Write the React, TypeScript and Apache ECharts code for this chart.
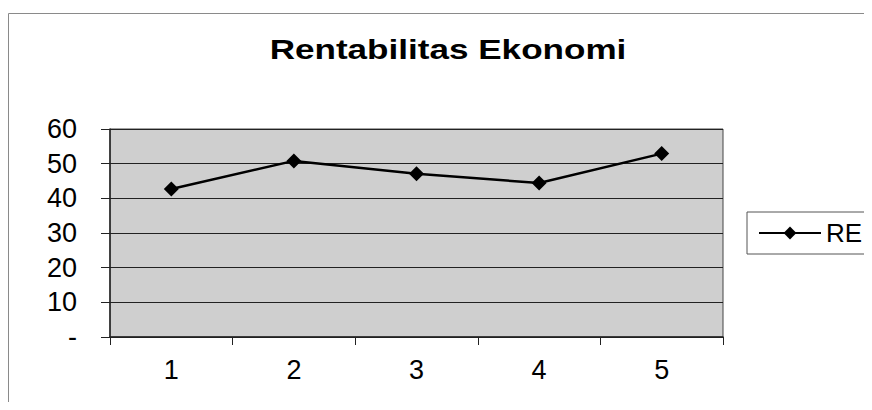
import React, { useEffect, useRef } from "react";
import * as echarts from "echarts";

const titleText = "Rentabilitas Ekonomi";
const categories = ["1", "2", "3", "4", "5"];
const seriesName = "RE";
const reValues = [42.7, 50.8, 47.1, 44.4, 52.9];
const yMin = 0;
const yMax = 60;
const yInterval = 10;

const FONT = 'Arial, "Liberation Sans", sans-serif';

export default function App() {
  const ref = useRef<HTMLDivElement>(null);
  useEffect(() => {
    if (!ref.current) return;
    const chart = echarts.init(ref.current, undefined, { renderer: "svg" });
    chart.setOption({
      animation: false,
      backgroundColor: "#ffffff",
      textStyle: { fontFamily: FONT },
      graphic: [
        {
          type: "rect",
          shape: { x: 8.5, y: 13.5, width: 860, height: 420 },
          style: { fill: "none", stroke: "#8a8a8a", lineWidth: 1 },
          silent: true,
          z: -1,
        },
        {
          type: "text",
          x: 448,
          y: 50,
          scaleX: 1.3,
          style: {
            text: titleText,
            fontSize: 27,
            fontWeight: "bold",
            fontFamily: FONT,
            fill: "#000",
            textAlign: "center",
            textVerticalAlign: "middle",
          },
        },
      ],
      legend: {
        show: true,
        left: 747,
        top: 212,
        orient: "vertical",
        padding: [8, 40, 8, 11],
        borderColor: "#555",
        borderWidth: 1,
        backgroundColor: "#fff",
        itemWidth: 62,
        itemHeight: 16,
        itemGap: 0,
        textStyle: { fontSize: 26, color: "#000", fontFamily: FONT },
        data: [seriesName],
      },
      grid: {
        left: 110,
        right: 149,
        top: 129,
        bottom: 73,
        show: true,
        backgroundColor: "#cfcfcf",
        borderColor: "#444",
        borderWidth: 1,
      },
      xAxis: {
        type: "category",
        data: categories,
        boundaryGap: true,
        axisLine: { show: true, lineStyle: { color: "#222", width: 1.5 } },
        axisTick: { show: true, length: 8, inside: false, lineStyle: { color: "#222" } },
        axisLabel: { fontSize: 27, color: "#000", margin: 19, fontFamily: FONT },
        splitLine: { show: false },
      },
      yAxis: {
        type: "value",
        min: yMin,
        max: yMax,
        interval: yInterval,
        axisLine: { show: true, lineStyle: { color: "#222", width: 1.5 } },
        axisTick: { show: true, length: 9, lineStyle: { color: "#222" } },
        axisLabel: {
          fontSize: 27,
          color: "#000",
          margin: 33,
          fontFamily: FONT,
          formatter: (v: number) => (v === 0 ? "-" : String(v)),
        },
        splitLine: { show: true, lineStyle: { color: "#222", width: 1 } },
      },
      series: [
        {
          name: seriesName,
          type: "line",
          data: reValues,
          symbol: "diamond",
          symbolSize: 15,
          lineStyle: { color: "#000", width: 2.5 },
          itemStyle: { color: "#000" },
        },
      ],
    });
    return () => chart.dispose();
  }, []);
  return <div ref={ref} style={{ width: 872, height: 410, margin: -8 }} />;
}
